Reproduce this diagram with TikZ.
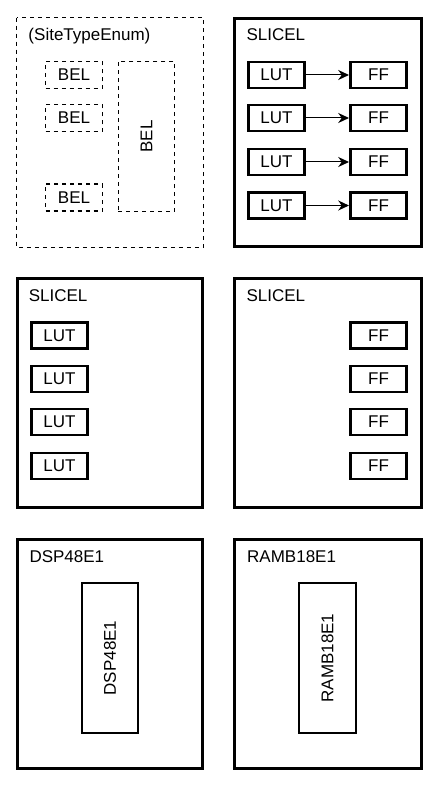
\documentclass[tikz,border=0pt]{standalone}
\usepackage{fontspec}
\setmainfont{Liberation Sans}
\usetikzlibrary{arrows.meta}

\tikzset{every picture/.style={line width=0.75pt}}
\tikzset{
  cell/.style={draw, line width=1.95pt, inner sep=0pt, minimum width=42.4pt, minimum height=19.6pt, font=\fontsize{12.75}{15}\selectfont},
  belcell/.style={draw, line width=1pt, dash pattern=on 3pt off 3pt, inner sep=0pt, minimum width=42.5pt, minimum height=20.4pt, font=\fontsize{12.75}{15}\selectfont},
  tallcell/.style={draw, inner sep=0pt, minimum width=42.4pt, minimum height=112.5pt, font=\fontsize{12.75}{15}\selectfont},
  sitelabel/.style={anchor=base west, inner sep=0pt, font=\fontsize{12.75}{15}\selectfont},
  link/.style={-{Stealth[length=8pt,width=7.5pt,inset=2.5pt]}, line width=0.75pt}
}

\begin{document}
\begin{tikzpicture}[x=0.75pt,y=0.75pt,yscale=-1,xscale=1]
\useasboundingbox (0,0) rectangle (438,788);

% Site (SiteTypeEnum)
\draw [line width=1pt, dash pattern=on 3pt off 3pt] (16.6,17.6) rectangle (203.4,247.4) ;
\draw (28,41) node [sitelabel] (enumlbl) {(SiteTypeEnum)};
% Text Node
\draw (74,75) node [belcell] (belA) {BEL};
% Text Node
\draw (74,118) node [belcell] (belB) {BEL};
% Text Node
\draw (74,197.5) node [belcell] (belC) {BEL};
% Text Node
\draw (146.5,136.5) node [tallcell, line width=1pt, dash pattern=on 3pt off 3pt] (belD) {\rotatebox{90}{BEL}};

% Site SLICEL with LUT and FF
\draw [line width=1.95pt] (234.3,18.3) rectangle (421.7,246.7) ;
\draw (246,41) node [sitelabel] (slicelA) {SLICEL};
% Text Node
\draw (276.5,75) node [cell] (lutA) {LUT};
\draw (276.5,118) node [cell] (lutB) {LUT};
\draw (276.5,162) node [cell] (lutC) {LUT};
\draw (276.5,205.5) node [cell] (lutD) {LUT};
% Text Node
\draw (378.5,75) node [cell] (ffA) {FF};
\draw (378.5,118) node [cell] (ffB) {FF};
\draw (378.5,162) node [cell] (ffC) {FF};
\draw (378.5,205.5) node [cell] (ffD) {FF};
% Connection
\draw [link] (lutA) -- (ffA) ;
% Connection
\draw [link] (lutB) -- (ffB) ;
% Connection
\draw [link] (lutC) -- (ffC) ;
% Connection
\draw [link] (lutD) -- (ffD) ;

% Site SLICEL with LUT only
\draw [line width=1.95pt] (17.3,278.3) rectangle (202.7,507.7) ;
\draw (28.3,301.7) node [sitelabel] (slicelB) {SLICEL};
% Text Node
\draw (59.5,335.5) node [cell] (lutE) {LUT};
\draw (59.5,379) node [cell] (lutF) {LUT};
\draw (59.5,422) node [cell] (lutG) {LUT};
\draw (59.5,466) node [cell] (lutH) {LUT};

% Site SLICEL with FF only
\draw [line width=1.95pt] (234.3,278.3) rectangle (421.7,507.7) ;
\draw (246,301.7) node [sitelabel] (slicelC) {SLICEL};
% Text Node
\draw (378.5,335.5) node [cell] (ffE) {FF};
\draw (378.5,379) node [cell] (ffF) {FF};
\draw (378.5,422) node [cell] (ffG) {FF};
\draw (378.5,466) node [cell] (ffH) {FF};

% Site DSP48E1
\draw [line width=1.95pt] (17.3,539.3) rectangle (202.7,768.7) ;
\draw (29,562.7) node [sitelabel] (dsplbl) {DSP48E1};
% Text Node
\draw (110,658) node [tallcell, line width=1.5pt] (dsp) {\rotatebox{90}{DSP48E1}};

% Site RAMB18E1
\draw [line width=1.95pt] (234.3,539.3) rectangle (421.7,768.7) ;
\draw (246.7,562.7) node [sitelabel] (ramblbl) {RAMB18E1};
% Text Node
\draw (327.5,658) node [tallcell, line width=1.5pt] (ramb) {\rotatebox{90}{RAMB18E1}};

\end{tikzpicture}
\end{document}
